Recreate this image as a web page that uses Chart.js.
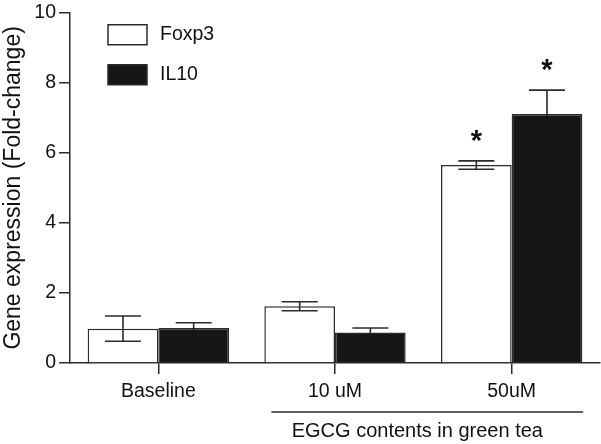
<!DOCTYPE html>
<html>
<head>
<meta charset="utf-8">
<script src="https://cdn.jsdelivr.net/npm/chart.js@4.4.1/dist/chart.umd.min.js"></script>
<style>
  html, body { margin: 0; padding: 0; background: #ffffff; }
  #wrap { width: 601px; height: 444px; position: relative; }
</style>
</head>
<body>
<div id="wrap"><canvas id="c" width="601" height="444"></canvas></div>
<script>
const categories = ['Baseline', '10 uM', '50uM'];
const seriesNames = ['Foxp3', 'IL10'];
const foxp3 = [0.98, 1.62, 5.65];
const foxp3Err = [0.36, 0.13, 0.12];
const il10 = [1.0, 0.87, 7.11];
const il10Err = [0.15, 0.13, 0.68];
const foxp3Sig = ['', '', '*'];
const il10Sig = ['', '', '*'];
const yTicks = [0, 2, 4, 6, 8, 10];
const yTitle = 'Gene expression (Fold-change)';
const groupTitle = 'EGCG contents in green tea';

const FONT = '"Liberation Sans", Arial, Helvetica, sans-serif';
const INK = '#2b2b2b';
const TEXT = '#111111';

const errs = [foxp3Err, il10Err];
const sigs = [foxp3Sig, il10Sig];

const errorBarPlugin = {
  id: 'errorBars',
  afterDatasetsDraw(chart) {
    const ctx = chart.ctx;
    const y = chart.scales.y;
    chart.data.datasets.forEach((ds, di) => {
      const meta = chart.getDatasetMeta(di);
      meta.data.forEach((bar, i) => {
        const v = ds.data[i], e = errs[di][i];
        const yVal = y.getPixelForValue(v);
        const yTop = y.getPixelForValue(v + e);
        const yBot = y.getPixelForValue(v - e);
        const half = 18;
        ctx.save();
        ctx.lineWidth = 1.6;
        ctx.strokeStyle = INK;
        ctx.beginPath();
        ctx.moveTo(bar.x, yTop); ctx.lineTo(bar.x, yVal);
        ctx.moveTo(bar.x - half, yTop); ctx.lineTo(bar.x + half, yTop);
        ctx.stroke();
        ctx.strokeStyle = ds.backgroundColor === '#ffffff' ? INK : ds.backgroundColor;
        ctx.beginPath();
        ctx.moveTo(bar.x, yVal); ctx.lineTo(bar.x, yBot);
        ctx.moveTo(bar.x - half, yBot); ctx.lineTo(bar.x + half, yBot);
        ctx.stroke();
        if (sigs[di][i]) {
          ctx.fillStyle = TEXT;
          ctx.font = 'bold 29px ' + FONT;
          ctx.textAlign = 'center';
          ctx.textBaseline = 'alphabetic';
          ctx.fillText(sigs[di][i], bar.x, yTop - 11);
        }
        ctx.restore();
      });
    });
  }
};

const extrasPlugin = {
  id: 'extras',
  afterDraw(chart) {
    const ctx = chart.ctx;
    const ca = chart.chartArea;
    const x = chart.scales.x;
    ctx.save();
    chart.data.datasets.forEach((ds, di) => {
      const bx = ca.left + 38, by = ca.top + 12 + di * 40;
      ctx.fillStyle = ds.backgroundColor;
      ctx.fillRect(bx, by, 39, 20);
      ctx.strokeStyle = INK;
      ctx.lineWidth = 1.5;
      ctx.strokeRect(bx, by, 39, 20);
      ctx.fillStyle = TEXT;
      ctx.font = '19.5px ' + FONT;
      ctx.textAlign = 'left';
      ctx.textBaseline = 'middle';
      ctx.fillText(ds.label, bx + 52, by + 10);
    });
    const w = x.getPixelForValue(1) - x.getPixelForValue(0);
    const x1 = x.getPixelForValue(1) - 0.36 * w;
    const x2 = x.getPixelForValue(2) + 0.405 * w;
    const ly = ca.bottom + 49;
    ctx.strokeStyle = INK;
    ctx.lineWidth = 1.5;
    ctx.beginPath();
    ctx.moveTo(x1, ly); ctx.lineTo(x2, ly);
    ctx.stroke();
    ctx.fillStyle = TEXT;
    ctx.font = '20px ' + FONT;
    ctx.textAlign = 'center';
    ctx.textBaseline = 'middle';
    ctx.fillText(groupTitle, (x1 + x2) / 2 - 10, ly + 19);
    ctx.restore();
  }
};

new Chart(document.getElementById('c'), {
  type: 'bar',
  data: {
    labels: categories,
    datasets: [
      { label: seriesNames[0], data: foxp3, backgroundColor: '#ffffff', borderColor: INK, borderWidth: 1.5 },
      { label: seriesNames[1], data: il10, backgroundColor: '#161616', borderColor: INK, borderWidth: 1.5 }
    ]
  },
  options: {
    responsive: false,
    animation: false,
    devicePixelRatio: 1,
    layout: { padding: { top: 1, right: 1, left: 0, bottom: 0 } },
    datasets: { bar: { categoryPercentage: 0.8, barPercentage: 1.0 } },
    plugins: { legend: { display: false }, tooltip: { enabled: false } },
    scales: {
      x: {
        offset: true,
        grid: { display: true, drawOnChartArea: false, drawTicks: true, tickLength: 11, offset: false, color: INK, lineWidth: 1.5 },
        border: { display: true, color: INK, width: 1.5 },
        ticks: { color: TEXT, font: { family: FONT, size: 19.5 }, padding: 6, maxRotation: 0 },
        afterFit(scale) { scale.height = 81; }
      },
      y: {
        min: 0, max: 10,
        afterBuildTicks(scale) { scale.ticks = yTicks.map(v => ({ value: v })); },
        grid: { display: true, drawOnChartArea: false, drawTicks: true, tickLength: 11, color: INK, lineWidth: 1.5 },
        border: { display: true, color: INK, width: 1.5 },
        ticks: { color: TEXT, font: { family: FONT, size: 19.5, lineHeight: 1.0 }, padding: 3 },
        title: { display: true, text: yTitle, color: TEXT, font: { family: FONT, size: 23 }, padding: { top: 0, bottom: 0 } },
        afterFit(scale) { scale.width = 70; }
      }
    }
  },
  plugins: [errorBarPlugin, extrasPlugin]
});
</script>
</body>
</html>
